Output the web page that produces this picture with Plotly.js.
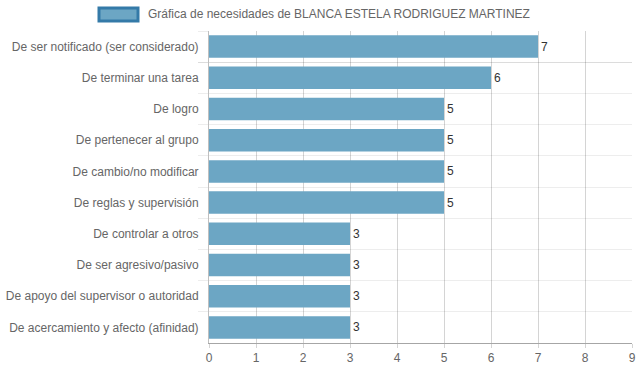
<!DOCTYPE html>
<html>
<head>
<meta charset="utf-8">
<script src="https://cdn.plot.ly/plotly-3.0.1.min.js"></script>
<style>html,body{margin:0;padding:0;background:#fff;}#chart{width:639px;height:372px;}</style>
</head>
<body>
<div id="chart"></div>
<script>
var categories = [
  "De ser notificado (ser considerado)",
  "De terminar una tarea",
  "De logro",
  "De pertenecer al grupo",
  "De cambio/no modificar",
  "De reglas y supervisión",
  "De controlar a otros",
  "De ser agresivo/pasivo",
  "De apoyo del supervisor o autoridad",
  "De acercamiento y afecto (afinidad)"
];
var values = [7, 6, 5, 5, 5, 5, 3, 3, 3, 3];
var seriesName = "Gráfica de necesidades de BLANCA ESTELA RODRIGUEZ MARTINEZ";
var xTicks = [0, 1, 2, 3, 4, 5, 6, 7, 8, 9];

var W = 639, H = 372, L = 209, R = 7, T = 31, B = 29;
var pw = W - L - R, ph = H - T - B;
function px(x){ return (x - L) / pw; }
function py(y){ return (H - B - y) / ph; }

var trace = {
  type: 'bar',
  orientation: 'h',
  y: categories,
  x: values,
  text: values.map(String),
  textposition: 'outside',
  cliponaxis: false,
  textfont: {family: 'Liberation Sans, Arial, sans-serif', size: 12, color: '#333'},
  marker: {color: 'rgba(108,166,196,1)', line: {width: 0}},
  name: seriesName,
  hoverinfo: 'none'
};

var layout = {
  width: W, height: H,
  margin: {l: L, r: R, t: T, b: B, pad: 0},
  paper_bgcolor: '#fff', plot_bgcolor: '#fff',
  showlegend: false,
  bargap: 0.28,
  font: {family: 'Liberation Sans, Arial, sans-serif', size: 12, color: '#666'},
  xaxis: {
    range: [0, 9],
    tickvals: xTicks,
    ticktext: xTicks.map(String),
    showgrid: true,
    gridcolor: 'rgba(0,0,0,0.17)',
    gridwidth: 1,
    zeroline: false,
    showline: true,
    linecolor: 'rgba(0,0,0,0.35)',
    linewidth: 1,
    ticks: 'outside', ticklen: 4, tickcolor: 'rgba(0,0,0,0.17)',
    layer: 'above traces',
    fixedrange: true
  },
  yaxis: {
    type: 'category',
    autorange: 'reversed',
    tickson: 'boundaries',
    showgrid: true,
    gridcolor: 'rgba(0,0,0,0.07)',
    ticks: 'outside', ticklen: 10, tickcolor: 'rgba(0,0,0,0.07)',
    ticklabelstandoff: 7,
    showline: true,
    linecolor: 'rgba(0,0,0,0.25)',
    linewidth: 1,
    zeroline: false,
    fixedrange: true
  },
  shapes: [{
    type: 'rect', xref: 'paper', yref: 'paper',
    x0: px(99), x1: px(138), y0: py(21), y1: py(8),
    fillcolor: 'rgba(108,166,196,1)',
    line: {color: 'rgb(52,122,168)', width: 3}
  }],
  annotations: [{
    xref: 'paper', yref: 'paper',
    x: px(146), y: py(14.5),
    xanchor: 'left', yanchor: 'middle',
    text: seriesName, showarrow: false,
    font: {family: 'Liberation Sans, Arial, sans-serif', size: 12, color: '#666'}
  }]
};

Plotly.newPlot('chart', [trace], layout, {displayModeBar: false, staticPlot: true});
</script>
</body>
</html>
